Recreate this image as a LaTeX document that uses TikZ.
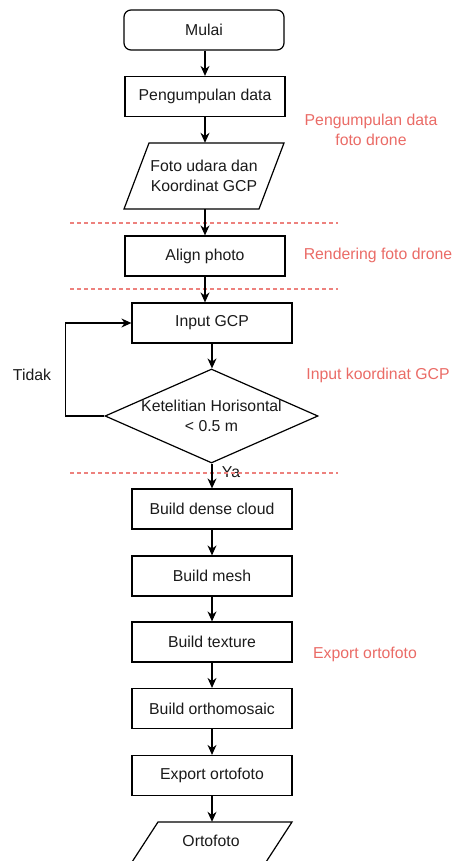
\documentclass[tikz,border=0pt]{standalone}
\usepackage{fontspec}
\setmainfont{Liberation Sans}
\usetikzlibrary{arrows.meta,shapes.geometric}
\definecolor{txt}{HTML}{1A1A1A}
\definecolor{redlab}{HTML}{EA6B66}
\begin{document}
\begin{tikzpicture}[x=1pt,y=-1pt,
  every node/.style={font=\fontsize{15.8}{20}\selectfont, text=txt},
  box/.style={draw=black, line width=1.2pt, rectangle, minimum width=160pt, minimum height=40pt, inner sep=0pt},
  startbox/.style={box, rounded corners=7pt},
  plain/.style={inner sep=0pt, align=center},
  redtext/.style={plain, text=redlab},
  sep/.style={draw=redlab!85, line width=1.3pt, dash pattern=on 4pt off 3pt},
  flow/.style={draw=black, line width=1.2pt, -{Stealth[length=10pt,width=9pt]}},
  shapeline/.style={draw=black, line width=1.2pt, line join=miter}
]
\useasboundingbox (0,0) rectangle (454,861);

% nodes
\node[startbox] (mulai) at (204,30) {Mulai};
\node[box] (peng) at (205,96.5) {Pengumpulan data};
\node[plain, minimum width=110pt, minimum height=66pt] (foto) at (204,176) {Foto udara dan\\Koordinat GCP};
\draw[shapeline] (149,143) -- (284,143) -- (259,209) -- (124,209) -- cycle;
\node[box] (align) at (205,256) {Align photo};
\node[box] (input) at (212,323) {Input GCP};
\node[draw=black, line width=1.2pt, diamond, minimum width=213pt, minimum height=94pt, inner sep=0pt, aspect=2.27, align=center] (cek) at (211.5,416) {};
\node[plain] (cektext) at (211.5,416) {Ketelitian Horisontal\\< 0.5 m};
\node[box] (dense) at (212,509) {Build dense cloud};
\node[box] (mesh) at (212,576) {Build mesh};
\node[box] (texture) at (212,642) {Build texture};
\node[box] (ortho) at (212,708.5) {Build orthomosaic};
\node[box] (export) at (212,775.5) {Export ortofoto};
\node[plain, minimum width=110pt, minimum height=40pt] (orto) at (212,842) {};
\draw[shapeline] (158,822) -- (292,822) -- (266,862) -- (132,862) -- cycle;
\node[plain] (ortotext) at (211,841) {Ortofoto};

% labels
\node[plain] (tidak) at (32,375) {Tidak};
\node[plain] (ya) at (231,472) {Ya};
\node[redtext] (lab1) at (371,130) {Pengumpulan data\\foto drone};
\node[redtext] (lab2) at (378,255) {Rendering foto drone};
\node[redtext] (lab3) at (378,375) {Input koordinat GCP};
\node[redtext] (lab4) at (365,654) {Export ortofoto};

% separators
\coordinate (s1a) at (70,223); \coordinate (s1b) at (338,223);
\coordinate (s2a) at (70,289); \coordinate (s2b) at (338,289);
\coordinate (s3a) at (70,473); \coordinate (s3b) at (338,473);
\draw[sep] (s1a) -- (s1b);
\draw[sep] (s2a) -- (s2b);
\draw[sep] (s3a) -- (s3b);

% connectors
\draw[flow] (mulai.south -| peng.south) -- (peng.north);
\draw[flow] (peng.south) -- (peng.south |- foto.north);
\draw[flow] (foto.south -| align.north) -- (align.north);
\draw[flow] (align.south) -- (align.south |- input.north);
\draw[flow] (input.south) -- (input.south |- cek.north);
\draw[flow] (cek.west) -- ++(-39,0) |- (input.west);
\draw[flow] (cek.south -| dense.north) -- (dense.north);
\draw[flow] (dense.south) -- (mesh.north);
\draw[flow] (mesh.south) -- (texture.north);
\draw[flow] (texture.south) -- (ortho.north);
\draw[flow] (ortho.south) -- (export.north);
\draw[flow] (export.south) -- (orto.north);
\end{tikzpicture}
\end{document}
